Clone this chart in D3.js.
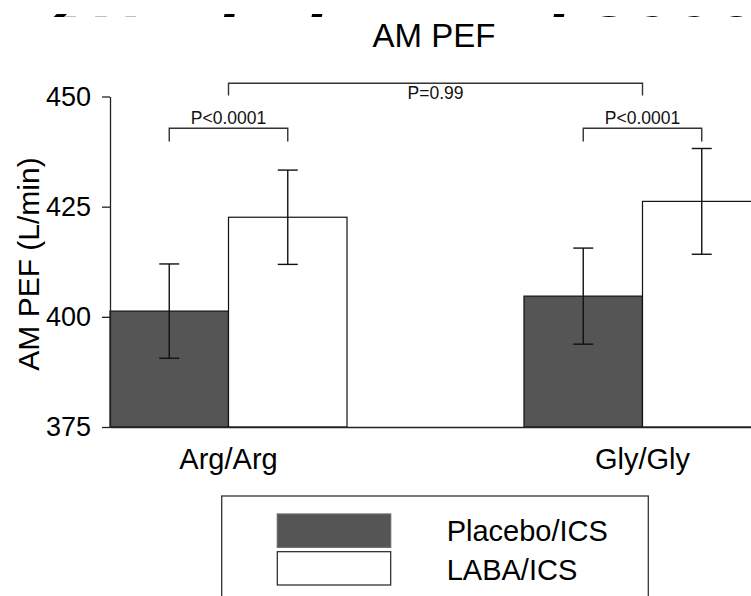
<!DOCTYPE html>
<html>
<head>
<meta charset="utf-8">
<script src="https://cdn.jsdelivr.net/npm/d3@7"></script>
<style>
  body { margin: 0; background: #fff; }
  svg { display: block; font-family: "Liberation Sans", Arial, Helvetica, sans-serif; }
</style>
</head>
<body>
<svg id="chart" width="751" height="596"></svg>
<script>
// ---- data -------------------------------------------------------------
const categories   = ["Arg/Arg", "Gly/Gly"];
const seriesNames  = ["Placebo/ICS", "LABA/ICS"];
const placeboMean  = [401.3, 404.7];
const placeboErr   = [10.7, 10.9];
const labaMean     = [422.6, 426.2];
const labaErr      = [10.7, 12.0];
const yTicks       = [375, 400, 425, 450];
const withinLabels = ["P<0.0001", "P<0.0001"];   // LABA vs placebo inside each genotype
const acrossLabel  = "P=0.99";                    // Arg/Arg vs Gly/Gly
const chartTitle   = "AM PEF";
const yTitle       = "AM PEF (L/min)";
const citation     = "(Wechsler et al 2006)";

// ---- layout -----------------------------------------------------------
const W = 751, H = 596;
const svg = d3.select("#chart");
const fills = { "Placebo/ICS": "#555555", "LABA/ICS": "#ffffff" };

const y = d3.scaleLinear().domain([375, 450]).range([427, 96.5]);
const x = d3.scaleBand().domain(categories).range([110, 761])
  .paddingInner(0.4275).paddingOuter(0);
const xs = d3.scaleBand().domain(seriesNames).range([0, x.bandwidth()]).padding(0);

const rows = categories.map((c, i) => ({
  cat: c,
  values: [
    { s: seriesNames[0], mean: placeboMean[i], err: placeboErr[i] },
    { s: seriesNames[1], mean: labaMean[i],    err: labaErr[i] }
  ]
}));

// citation line running off the top edge: only the tops of its tallest glyphs show
const cite = svg.append("svg")
  .attr("x", 0).attr("y", 0).attr("width", W).attr("height", 17)
  .attr("overflow", "hidden");
cite.append("text")
  .attr("x", 35).attr("y", 68)
  .attr("font-size", 75).attr("font-weight", "bold").attr("font-style", "italic")
  .attr("fill", "#000")
  .text(citation);

// title
svg.append("text")
  .attr("x", 434).attr("y", 46.5)
  .attr("text-anchor", "middle")
  .attr("font-size", 33).attr("fill", "#000")
  .text(chartTitle);

// bars
const groups = svg.append("g").selectAll("g").data(rows).join("g")
  .attr("transform", d => `translate(${x(d.cat)},0)`);

groups.selectAll("rect").data(d => d.values).join("rect")
  .attr("x", d => xs(d.s))
  .attr("y", d => y(d.mean))
  .attr("width", xs.bandwidth())
  .attr("height", d => y(375) - y(d.mean))
  .attr("fill", d => fills[d.s])
  .attr("stroke", "#111").attr("stroke-width", 1.2);

// error bars
const eb = groups.selectAll("g.err").data(d => d.values).join("g").attr("class", "err")
  .attr("stroke", "#111").attr("stroke-width", 1.4);
const cx = d => xs(d.s) + xs.bandwidth() / 2;
eb.append("line")
  .attr("x1", cx).attr("x2", cx)
  .attr("y1", d => y(d.mean + d.err)).attr("y2", d => y(d.mean - d.err));
eb.append("line")
  .attr("x1", d => cx(d) - 10).attr("x2", d => cx(d) + 10)
  .attr("y1", d => y(d.mean + d.err)).attr("y2", d => y(d.mean + d.err));
eb.append("line")
  .attr("x1", d => cx(d) - 10).attr("x2", d => cx(d) + 10)
  .attr("y1", d => y(d.mean - d.err)).attr("y2", d => y(d.mean - d.err));

// y axis
const yAxis = svg.append("g").attr("transform", "translate(110,0)")
  .call(d3.axisLeft(y).tickValues(yTicks).tickSize(8).tickPadding(11).tickSizeOuter(0));
yAxis.select(".domain").attr("stroke", "#222").attr("stroke-width", 1.3);
yAxis.selectAll(".tick line").attr("stroke", "#222").attr("stroke-width", 1.3);
yAxis.selectAll(".tick text")
  .attr("font-size", 27).attr("fill", "#000")
  .attr("font-family", "'Liberation Sans', Arial, sans-serif");

// x axis (baseline + category names)
const xAxis = svg.append("g").attr("transform", "translate(0,427)")
  .call(d3.axisBottom(x).tickSize(0).tickPadding(21.5).tickSizeOuter(0));
xAxis.select(".domain").attr("stroke", "#222").attr("stroke-width", 1.3);
xAxis.selectAll(".tick text")
  .attr("font-size", 29).attr("fill", "#000")
  .attr("font-family", "'Liberation Sans', Arial, sans-serif");

// y-axis title
svg.append("text")
  .attr("transform", "translate(38.5,264) rotate(-90)")
  .attr("text-anchor", "middle")
  .attr("font-size", 30).attr("fill", "#000")
  .text(yTitle);

// significance brackets
const brk = svg.append("g").attr("fill", "none").attr("stroke", "#333").attr("stroke-width", 1.4);
function bracket(x1, x2, level, tip) {
  brk.append("path")
    .attr("d", `M${x1},${y(tip)}V${y(level)}H${x2}V${y(tip)}`);
}
rows.forEach((r, i) => {
  const x1 = x(r.cat) + xs(seriesNames[0]) + xs.bandwidth() / 2;
  const x2 = x(r.cat) + xs(seriesNames[1]) + xs.bandwidth() / 2;
  bracket(x1, x2, 442.8, 439.8);
  svg.append("text")
    .attr("x", (x1 + x2) / 2).attr("y", y(442.8) - 4.5)
    .attr("text-anchor", "middle").attr("font-size", 17.5).attr("fill", "#111")
    .text(withinLabels[i]);
});
{
  const x1 = x(categories[0]) + x.bandwidth() / 2;
  const x2 = x(categories[1]) + x.bandwidth() / 2;
  bracket(x1, x2, 453.0, 450.2);
  svg.append("text")
    .attr("x", (x1 + x2) / 2).attr("y", y(453.0) + 16)
    .attr("text-anchor", "middle").attr("font-size", 17.5).attr("fill", "#111")
    .text(acrossLabel);
}

// legend
const lg = svg.append("g");
lg.append("rect")
  .attr("x", 221.7).attr("y", 496).attr("width", 426.6).attr("height", 140)
  .attr("fill", "#fff").attr("stroke", "#333").attr("stroke-width", 1.3);
const items = lg.selectAll("g.item").data(seriesNames).join("g").attr("class", "item")
  .attr("transform", (d, i) => `translate(0,${i * 37.7})`);
items.append("rect")
  .attr("x", 277.3).attr("y", 514).attr("width", 113.4).attr("height", 33.3)
  .attr("fill", d => fills[d]).attr("stroke", d => d === seriesNames[0] ? "#666" : "#222")
  .attr("stroke-width", 1.2);
items.append("text")
  .attr("x", 446.7).attr("y", (d, i) => 540.7 + (i ? 1.6 : 0))
  .attr("font-size", 29).attr("fill", "#000")
  .text(d => d);
</script>
</body>
</html>
